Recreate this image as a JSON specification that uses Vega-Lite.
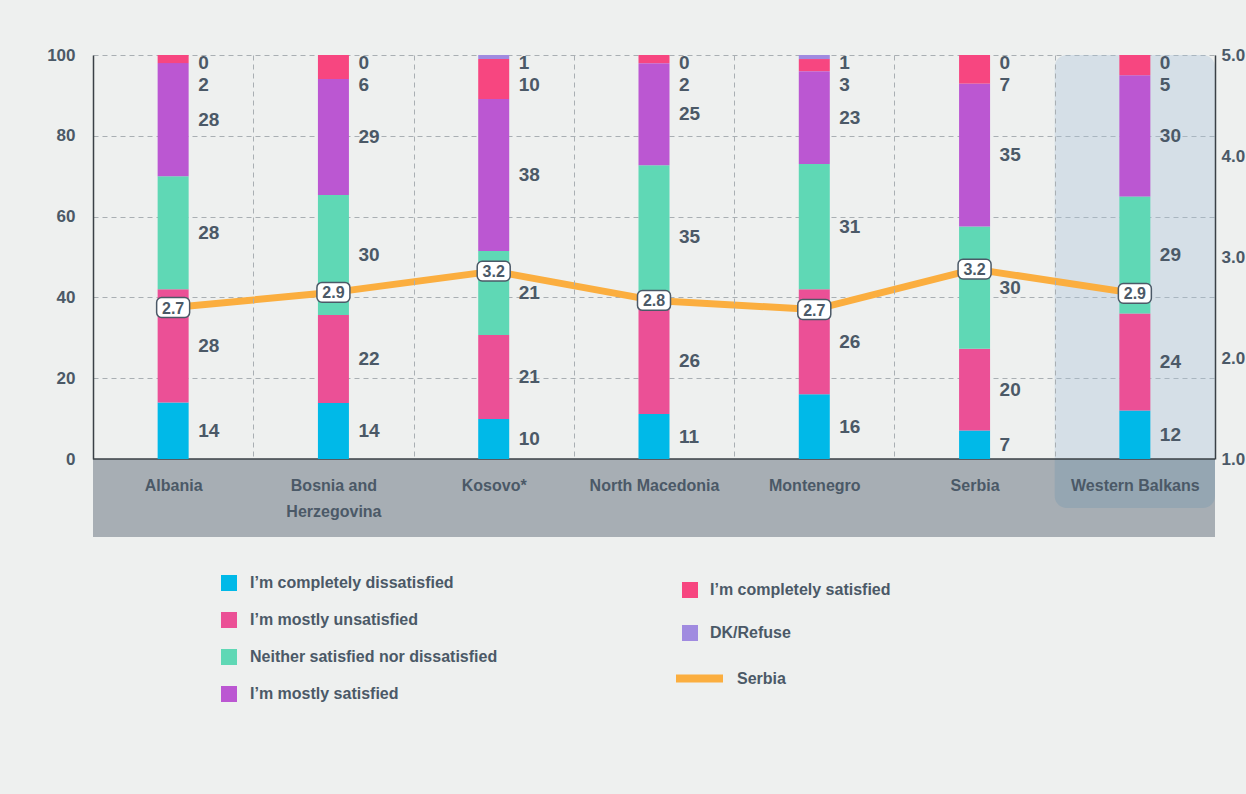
{
  "$schema": "https://vega.github.io/schema/vega-lite/v6.json",
  "width": 1122,
  "height": 404,
  "autosize": {"type": "none"},
  "padding": {"left": 93, "top": 55, "right": 31, "bottom": 335},
  "background": "#EEF0EF",
  "config": {
    "view": {"stroke": null},
    "font": "Liberation Sans, Arial, sans-serif",
    "axis": {"labelFont": "Liberation Sans, Arial, sans-serif", "labelFontWeight": "bold", "labelColor": "#4B5967", "ticks": false},
    "legend": {"labelFont": "Liberation Sans, Arial, sans-serif", "labelFontWeight": "bold", "labelColor": "#4B5967", "labelFontSize": 16, "padding": 0, "titlePadding": 0, "labelLimit": 400}
  },
  "datasets": {
    "bars": [
      {"country": "Albania", "cat": "I’m completely dissatisfied", "k": 1, "pct": 14},
      {"country": "Albania", "cat": "I’m mostly unsatisfied", "k": 2, "pct": 28},
      {"country": "Albania", "cat": "Neither satisfied nor dissatisfied", "k": 3, "pct": 28},
      {"country": "Albania", "cat": "I’m mostly satisfied", "k": 4, "pct": 28},
      {"country": "Albania", "cat": "I’m completely satisfied", "k": 5, "pct": 2},
      {"country": "Albania", "cat": "DK/Refuse", "k": 6, "pct": 0},
      {"country": "Bosnia and Herzegovina", "cat": "I’m completely dissatisfied", "k": 1, "pct": 14},
      {"country": "Bosnia and Herzegovina", "cat": "I’m mostly unsatisfied", "k": 2, "pct": 22},
      {"country": "Bosnia and Herzegovina", "cat": "Neither satisfied nor dissatisfied", "k": 3, "pct": 30},
      {"country": "Bosnia and Herzegovina", "cat": "I’m mostly satisfied", "k": 4, "pct": 29},
      {"country": "Bosnia and Herzegovina", "cat": "I’m completely satisfied", "k": 5, "pct": 6},
      {"country": "Bosnia and Herzegovina", "cat": "DK/Refuse", "k": 6, "pct": 0},
      {"country": "Kosovo*", "cat": "I’m completely dissatisfied", "k": 1, "pct": 10},
      {"country": "Kosovo*", "cat": "I’m mostly unsatisfied", "k": 2, "pct": 21},
      {"country": "Kosovo*", "cat": "Neither satisfied nor dissatisfied", "k": 3, "pct": 21},
      {"country": "Kosovo*", "cat": "I’m mostly satisfied", "k": 4, "pct": 38},
      {"country": "Kosovo*", "cat": "I’m completely satisfied", "k": 5, "pct": 10},
      {"country": "Kosovo*", "cat": "DK/Refuse", "k": 6, "pct": 1},
      {"country": "North Macedonia", "cat": "I’m completely dissatisfied", "k": 1, "pct": 11},
      {"country": "North Macedonia", "cat": "I’m mostly unsatisfied", "k": 2, "pct": 26},
      {"country": "North Macedonia", "cat": "Neither satisfied nor dissatisfied", "k": 3, "pct": 35},
      {"country": "North Macedonia", "cat": "I’m mostly satisfied", "k": 4, "pct": 25},
      {"country": "North Macedonia", "cat": "I’m completely satisfied", "k": 5, "pct": 2},
      {"country": "North Macedonia", "cat": "DK/Refuse", "k": 6, "pct": 0},
      {"country": "Montenegro", "cat": "I’m completely dissatisfied", "k": 1, "pct": 16},
      {"country": "Montenegro", "cat": "I’m mostly unsatisfied", "k": 2, "pct": 26},
      {"country": "Montenegro", "cat": "Neither satisfied nor dissatisfied", "k": 3, "pct": 31},
      {"country": "Montenegro", "cat": "I’m mostly satisfied", "k": 4, "pct": 23},
      {"country": "Montenegro", "cat": "I’m completely satisfied", "k": 5, "pct": 3},
      {"country": "Montenegro", "cat": "DK/Refuse", "k": 6, "pct": 1},
      {"country": "Serbia", "cat": "I’m completely dissatisfied", "k": 1, "pct": 7},
      {"country": "Serbia", "cat": "I’m mostly unsatisfied", "k": 2, "pct": 20},
      {"country": "Serbia", "cat": "Neither satisfied nor dissatisfied", "k": 3, "pct": 30},
      {"country": "Serbia", "cat": "I’m mostly satisfied", "k": 4, "pct": 35},
      {"country": "Serbia", "cat": "I’m completely satisfied", "k": 5, "pct": 7},
      {"country": "Serbia", "cat": "DK/Refuse", "k": 6, "pct": 0},
      {"country": "Western Balkans", "cat": "I’m completely dissatisfied", "k": 1, "pct": 12},
      {"country": "Western Balkans", "cat": "I’m mostly unsatisfied", "k": 2, "pct": 24},
      {"country": "Western Balkans", "cat": "Neither satisfied nor dissatisfied", "k": 3, "pct": 29},
      {"country": "Western Balkans", "cat": "I’m mostly satisfied", "k": 4, "pct": 30},
      {"country": "Western Balkans", "cat": "I’m completely satisfied", "k": 5, "pct": 5},
      {"country": "Western Balkans", "cat": "DK/Refuse", "k": 6, "pct": 0}
    ],
    "score": [
      {"country": "Albania", "mean": 2.5, "label": "2.7"},
      {"country": "Bosnia and Herzegovina", "mean": 2.65, "label": "2.9"},
      {"country": "Kosovo*", "mean": 2.86, "label": "3.2"},
      {"country": "North Macedonia", "mean": 2.57, "label": "2.8"},
      {"country": "Montenegro", "mean": 2.48, "label": "2.7"},
      {"country": "Serbia", "mean": 2.88, "label": "3.2"},
      {"country": "Western Balkans", "mean": 2.64, "label": "2.9"}
    ]
  },
  "layer": [
    {
      "data": {"name": "bars"},
      "transform": [
        {"stack": "pct", "groupby": ["country"], "sort": [{"field": "k", "order": "ascending"}], "offset": "normalize", "as": ["p0", "p1"]}
      ],
      "resolve": {"scale": {"color": "independent"}, "legend": {"color": "independent"}},
      "layer": [
        {
          "data": {"values": [{}]},
          "mark": {"type": "rect", "color": "#A7AEB4"},
          "encoding": {
            "y": {"datum": 0, "type": "quantitative", "scale": {"domain": [0, 1]}, "title": null},
            "y2": {"datum": -0.193}
          }
        },
        {
          "transform": [{"filter": "datum.country === 'Western Balkans' && datum.k === 1"}],
          "mark": {"type": "bar", "color": "#A9C3D8", "opacity": 0.36, "cornerRadiusTopLeft": 12, "cornerRadiusTopRight": 12},
          "encoding": {
            "x": {"field": "country", "type": "nominal", "title": null, "sort": ["Albania", "Bosnia and Herzegovina", "Kosovo*", "North Macedonia", "Montenegro", "Serbia", "Western Balkans"]},
            "y": {"datum": 1, "type": "quantitative", "scale": {"domain": [0, 1]}, "title": null},
            "y2": {"datum": 0}
          }
        },
        {
          "transform": [{"filter": "datum.country === 'Western Balkans' && datum.k === 1"}],
          "mark": {"type": "bar", "color": "#95A6B2", "cornerRadiusBottomLeft": 12, "cornerRadiusBottomRight": 12},
          "encoding": {
            "x": {"field": "country", "type": "nominal", "title": null, "sort": ["Albania", "Bosnia and Herzegovina", "Kosovo*", "North Macedonia", "Montenegro", "Serbia", "Western Balkans"]},
            "y": {"datum": 0, "type": "quantitative", "scale": {"domain": [0, 1]}, "title": null},
            "y2": {"datum": -0.121}
          }
        },
        {
          "data": {"values": [{}]},
          "mark": {"type": "rule", "color": "#3A4046", "strokeWidth": 1.5},
          "encoding": {
            "y": {"datum": 0, "type": "quantitative", "scale": {"domain": [0, 1]}, "title": null}
          }
        },
        {
          "transform": [{"filter": "datum.k <= 4"}],
          "mark": {"type": "bar", "width": 31},
          "encoding": {
            "x": {
              "field": "country", "type": "nominal", "title": null,
              "sort": ["Albania", "Bosnia and Herzegovina", "Kosovo*", "North Macedonia", "Montenegro", "Serbia", "Western Balkans"],
              "scale": {"paddingInner": 0, "paddingOuter": 0},
              "axis": {
                "labelAngle": 0, "labelAlign": "center", "labelFontSize": 16, "labelPadding": 18, "labelLineHeight": 26, "labelBaseline": "top",
                "domain": false, "grid": true, "tickBand": "extent", "gridColor": "#A9AFB3", "gridDash": [5, 4], "gridWidth": 1, "zindex": 1,
                "gridOpacity": {"condition": {"test": "datum.value == null", "value": 0}, "value": 1},
                "labelExpr": "datum.label === 'Bosnia and Herzegovina' ? ['Bosnia and', 'Herzegovina'] : datum.label"
              }
            },
            "y": {
              "field": "p0", "type": "quantitative", "title": null,
              "scale": {"domain": [0, 1]},
              "axis": {
                "values": [0, 0.2, 0.4, 0.6, 0.8, 1],
                "labelExpr": "format(datum.value * 100, 'd')",
                "labelFontSize": 17, "labelPadding": 18,
                "domain": true, "domainColor": "#3A4046", "domainWidth": 1.5,
                "grid": true, "gridColor": "#A9AFB3", "gridDash": [5, 4], "gridWidth": 1
              }
            },
            "y2": {"field": "p1"},
            "color": {
              "field": "cat", "type": "nominal",
              "scale": {
                "domain": ["I’m completely dissatisfied", "I’m mostly unsatisfied", "Neither satisfied nor dissatisfied", "I’m mostly satisfied"],
                "range": ["#00B9E8", "#EB5096", "#5FD8B5", "#BB57D2"]
              },
              "legend": {"orient": "none", "legendX": 128, "legendY": 520, "title": null, "symbolType": "square", "symbolSize": 256, "symbolStrokeWidth": 0, "labelOffset": 13, "rowPadding": 21, "direction": "vertical"}
            }
          }
        },
        {
          "transform": [{"filter": "datum.k >= 5"}],
          "mark": {"type": "bar", "width": 31},
          "encoding": {
            "x": {"field": "country", "type": "nominal", "title": null, "sort": ["Albania", "Bosnia and Herzegovina", "Kosovo*", "North Macedonia", "Montenegro", "Serbia", "Western Balkans"]},
            "y": {"field": "p0", "type": "quantitative", "title": null, "scale": {"domain": [0, 1]}},
            "y2": {"field": "p1"},
            "color": {
              "field": "cat", "type": "nominal",
              "scale": {"domain": ["I’m completely satisfied", "DK/Refuse"], "range": ["#F74680", "#A08BE0"]},
              "legend": {"orient": "none", "legendX": 589, "legendY": 527, "title": null, "symbolType": "square", "symbolSize": 256, "symbolStrokeWidth": 0, "labelOffset": 12, "rowPadding": 27, "direction": "vertical"}
            }
          }
        },
        {
          "mark": {"type": "text", "align": "left", "baseline": "middle", "dx": 25, "fontSize": 19, "fontWeight": "bold", "color": "#4B5967"},
          "encoding": {
            "x": {"field": "country", "type": "nominal", "title": null, "sort": ["Albania", "Bosnia and Herzegovina", "Kosovo*", "North Macedonia", "Montenegro", "Serbia", "Western Balkans"]},
            "y": {"field": "pct", "type": "quantitative", "stack": "normalize", "bandPosition": 0.5, "title": null, "scale": {"domain": [0, 1]}},
            "detail": {"field": "cat"},
            "order": {"field": "k", "type": "quantitative", "sort": "ascending"},
            "text": {"condition": {"test": "datum.k >= 5", "value": ""}, "field": "pct", "type": "quantitative"}
          }
        },
        {
          "transform": [{"filter": "datum.k === 6"}],
          "mark": {"type": "text", "align": "left", "baseline": "middle", "dx": 25, "fontSize": 19, "fontWeight": "bold", "color": "#4B5967"},
          "encoding": {
            "x": {"field": "country", "type": "nominal", "title": null, "sort": ["Albania", "Bosnia and Herzegovina", "Kosovo*", "North Macedonia", "Montenegro", "Serbia", "Western Balkans"]},
            "y": {"datum": 0.98, "type": "quantitative", "scale": {"domain": [0, 1]}, "title": null},
            "text": {"field": "pct", "type": "quantitative"}
          }
        },
        {
          "transform": [{"filter": "datum.k === 5"}],
          "mark": {"type": "text", "align": "left", "baseline": "middle", "dx": 25, "fontSize": 19, "fontWeight": "bold", "color": "#4B5967"},
          "encoding": {
            "x": {"field": "country", "type": "nominal", "title": null, "sort": ["Albania", "Bosnia and Herzegovina", "Kosovo*", "North Macedonia", "Montenegro", "Serbia", "Western Balkans"]},
            "y": {"datum": 0.925, "type": "quantitative", "scale": {"domain": [0, 1]}, "title": null},
            "text": {"field": "pct", "type": "quantitative"}
          }
        }
      ]
    },
    {
      "data": {"name": "score"},
      "encoding": {
        "x": {"field": "country", "type": "nominal", "title": null, "sort": ["Albania", "Bosnia and Herzegovina", "Kosovo*", "North Macedonia", "Montenegro", "Serbia", "Western Balkans"]},
        "y": {
          "field": "mean", "type": "quantitative", "title": null,
          "scale": {"domain": [1, 5]},
          "axis": {"orient": "right", "values": [1, 2, 3, 4, 5], "format": ".1f", "labelFontSize": 17, "labelPadding": 6, "domain": true, "domainColor": "#3A4046", "domainWidth": 1.5, "grid": false, "zindex": 2}
        }
      },
      "layer": [
        {
          "mark": {"type": "line", "strokeWidth": 7, "strokeCap": "round", "strokeJoin": "round"},
          "encoding": {
            "stroke": {
              "datum": "Serbia", "type": "nominal",
              "scale": {"domain": ["Serbia"], "range": ["#FBAE3F"]},
              "legend": {"orient": "none", "legendX": 579, "legendY": 596, "title": null, "symbolType": "stroke", "symbolSize": 2209, "symbolStrokeWidth": 8, "labelOffset": 10}
            }
          }
        },
        {
          "mark": {"type": "point", "shape": "M-0.7,-0.6 L0.7,-0.6 A0.3,0.3 0 0 1 1,-0.3 L1,0.3 A0.3,0.3 0 0 1 0.7,0.6 L-0.7,0.6 A0.3,0.3 0 0 1 -1,0.3 L-1,-0.3 A0.3,0.3 0 0 1 -0.7,-0.6 Z", "size": 1089, "filled": true, "fill": "#FFFFFF", "stroke": "#4B5967", "strokeWidth": 1.5, "opacity": 1}
        },
        {
          "mark": {"type": "text", "align": "center", "baseline": "middle", "fontSize": 16, "fontWeight": "bold", "color": "#4B5967", "dy": 1},
          "encoding": {"text": {"field": "label"}}
        }
      ]
    }
  ],
  "resolve": {"scale": {"y": "independent"}, "axis": {"y": "independent"}}
}
